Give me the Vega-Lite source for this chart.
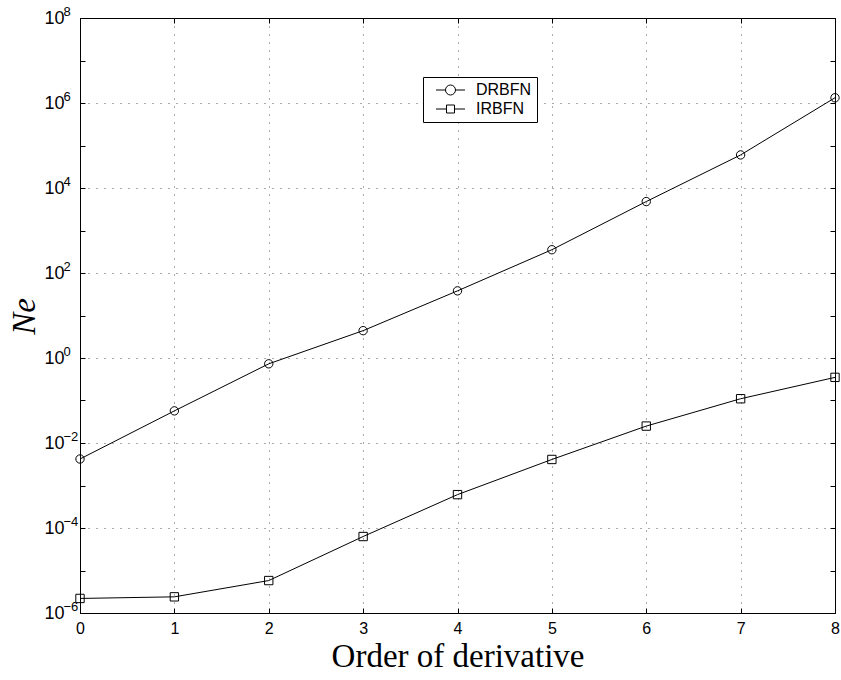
{
  "$schema": "https://vega.github.io/schema/vega-lite/v6.json",
  "width": 755,
  "height": 595,
  "autosize": "none",
  "padding": {"left": 80, "top": 18, "right": 6, "bottom": 67},
  "background": "white",
  "config": {
    "view": {"stroke": "black", "strokeWidth": 1},
    "axis": {
      "domainColor": "black",
      "tickColor": "black",
      "labelColor": "black",
      "titleColor": "black",
      "labelFont": "Liberation Sans",
      "tickSize": -5,
      "gridColor": "#555",
      "gridDash": [1, 7],
      "gridWidth": 1
    }
  },
  "data": {
    "values": [
      {"order": 0, "ne": 0.0042, "series": "DRBFN"},
      {"order": 1, "ne": 0.057, "series": "DRBFN"},
      {"order": 2, "ne": 0.73, "series": "DRBFN"},
      {"order": 3, "ne": 4.4, "series": "DRBFN"},
      {"order": 4, "ne": 38, "series": "DRBFN"},
      {"order": 5, "ne": 353, "series": "DRBFN"},
      {"order": 6, "ne": 4800, "series": "DRBFN"},
      {"order": 7, "ne": 60000, "series": "DRBFN"},
      {"order": 8, "ne": 1330000, "series": "DRBFN"},
      {"order": 0, "ne": 0.0000022, "series": "IRBFN"},
      {"order": 1, "ne": 0.0000024, "series": "IRBFN"},
      {"order": 2, "ne": 0.0000058, "series": "IRBFN"},
      {"order": 3, "ne": 0.000063, "series": "IRBFN"},
      {"order": 4, "ne": 0.00061, "series": "IRBFN"},
      {"order": 5, "ne": 0.0041, "series": "IRBFN"},
      {"order": 6, "ne": 0.025, "series": "IRBFN"},
      {"order": 7, "ne": 0.11, "series": "IRBFN"},
      {"order": 8, "ne": 0.35, "series": "IRBFN"}
    ]
  },
  "resolve": {
    "axis": {"x": "independent", "y": "independent"},
    "scale": {"shape": "independent"}
  },
  "layer": [
    {
      "mark": {"type": "line", "color": "black", "strokeWidth": 1},
      "encoding": {
        "x": {
          "field": "order", "type": "quantitative",
          "scale": {"domain": [0, 8], "nice": false, "zero": false},
          "axis": {
            "orient": "bottom",
            "values": [0, 1, 2, 3, 4, 5, 6, 7, 8],
            "format": "d",
            "labelFontSize": 16,
            "labelPadding": 12,
            "labelFlush": false,
            "grid": true,
            "title": "Order of derivative",
            "titleFont": "Liberation Serif",
            "titleFontSize": 33,
            "titleFontWeight": "normal",
            "titlePadding": 4
          }
        },
        "y": {
          "field": "ne", "type": "quantitative",
          "scale": {"type": "log", "domain": [1e-6, 1e8], "nice": false},
          "axis": {
            "orient": "left",
            "values": [1e-6, 1e-5, 1e-4, 1e-3, 1e-2, 1e-1, 1, 10, 100, 1000, 10000, 100000, 1000000, 10000000, 100000000],
            "labelExpr": "round(log(datum.value)/LN10) % 2 == 0 ? '10' : ''",
            "labelFontSize": 18,
            "labelPadding": 21,
            "labelFlush": false,
            "grid": true,
            "gridOpacity": {"condition": {"test": "round(log(datum.value)/LN10) % 2 == 0", "value": 1}, "value": 0},
            "title": "Ne",
            "titleFont": "Liberation Serif",
            "titleFontStyle": "italic",
            "titleFontWeight": "normal",
            "titleFontSize": 33,
            "titleX": -56,
            "titleY": 298,
            "titleAlign": "center",
            "titleBaseline": "middle",
            "titleAngle": -90
          }
        },
        "detail": {"field": "series"}
      }
    },
    {
      "mark": {"type": "point", "filled": false, "color": "black", "strokeWidth": 1, "size": 70, "opacity": 1},
      "encoding": {
        "x": {
          "field": "order", "type": "quantitative",
          "axis": {"orient": "top", "labels": false, "title": null, "grid": false, "values": [0, 1, 2, 3, 4, 5, 6, 7, 8]}
        },
        "y": {
          "field": "ne", "type": "quantitative",
          "axis": {"orient": "right", "labels": false, "title": null, "grid": false,
            "values": [1e-6, 1e-5, 1e-4, 1e-3, 1e-2, 1e-1, 1, 10, 100, 1000, 10000, 100000, 1000000, 10000000, 100000000]}
        },
        "shape": {
          "field": "series", "type": "nominal",
          "scale": {"domain": ["DRBFN", "IRBFN"], "range": ["circle", "square"]},
          "legend": null
        }
      }
    },
    {
      "mark": {"type": "point", "opacity": 0},
      "encoding": {
        "x": {"field": "order", "type": "quantitative", "axis": null},
        "y": {
          "field": "ne", "type": "quantitative",
          "axis": {
            "orient": "left",
            "values": [1e-6, 1e-4, 1e-2, 1, 100, 10000, 1000000, 100000000],
            "labelExpr": "(datum.value < 1 ? '−' : '') + abs(round(log(datum.value)/LN10))",
            "labelFontSize": 13,
            "labelAlign": "left",
            "labelPadding": 17,
            "labelOffset": -7,
            "labelFlush": false,
            "labelOverlap": false,
            "ticks": false,
            "domain": false,
            "grid": false,
            "title": null
          }
        }
      }
    },
    {
      "transform": [{"filter": "false"}],
      "mark": {"type": "point", "filled": false, "color": "black", "strokeWidth": 1, "size": 100},
      "encoding": {
        "shape": {
          "field": "series", "type": "nominal",
          "scale": {
            "domain": ["DRBFN", "IRBFN"],
            "range": [
              "M0,0H1.9M3.9,0H5.8M3.9,0A1,1,0,1,1,1.9,0A1,1,0,1,1,3.9,0",
              "M0,0H2.1M3.7,0H5.8M2.1,-0.8H3.7V0.8H2.1Z"
            ]
          },
          "legend": {
            "orient": "none",
            "legendX": 343,
            "legendY": 59,
            "title": null,
            "symbolSize": 100,
            "symbolStrokeColor": "black",
            "symbolFillColor": "transparent",
            "symbolStrokeWidth": 1,
            "symbolOpacity": 1,
            "labelFont": "Liberation Sans",
            "labelFontSize": 16,
            "labelColor": "black",
            "labelOffset": 32,
            "rowPadding": 3,
            "padding": 5,
            "strokeColor": "black",
            "fillColor": "white"
          }
        }
      }
    }
  ]
}
